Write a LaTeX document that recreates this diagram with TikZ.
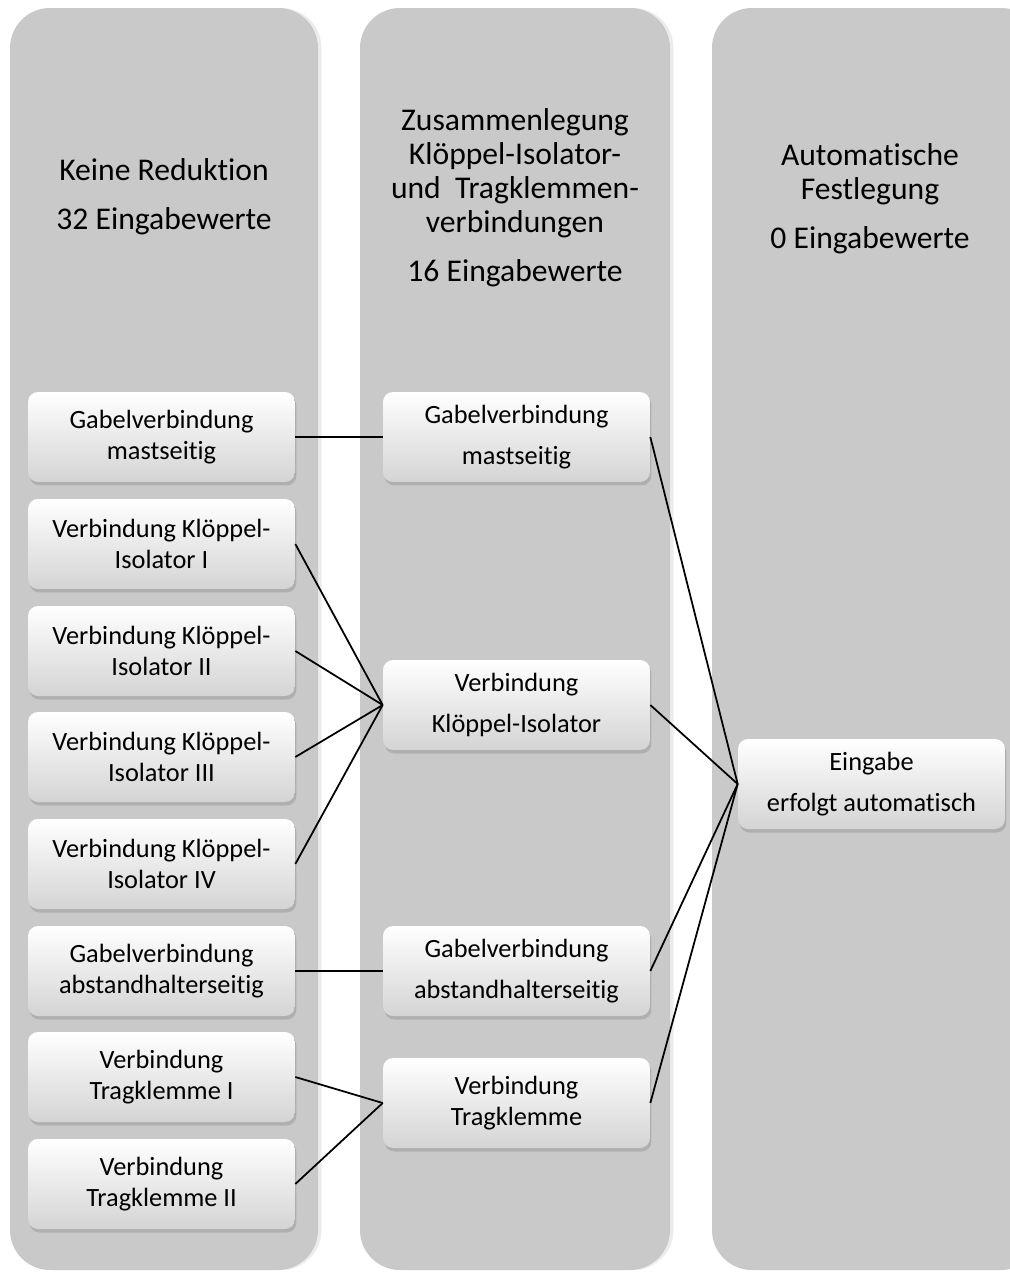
\documentclass[tikz,border=0pt]{standalone}
\usepackage{fontspec}
\setmainfont{Carlito}[Ligatures=NoCommon]
\usetikzlibrary{shadows}
\definecolor{colgray}{RGB}{201,201,201}
\definecolor{boxgray}{RGB}{212,212,212}

\begin{document}
\begin{tikzpicture}[x=0.02cm, y=-0.02cm,
    column/.style={fill=colgray, rounded corners=0.8cm, drop shadow={opacity=0.15, shadow xshift=0.07cm, shadow yshift=0cm}},
    item/.style={rounded corners=0.2cm, top color=white, bottom color=boxgray, minimum width=5.34cm, minimum height=1.8cm, align=center, font=\fontsize{15}{17.6}\selectfont, drop shadow={opacity=0.35, shadow xshift=0.03cm, shadow yshift=-0.07cm}},
    title/.style={align=center, font=\fontsize{18}{19.4}\selectfont},
    link/.style={line width=1pt}]
    \useasboundingbox (0,0) rectangle (1009,1278);
    \path[column] (10,8) rectangle (318,1270);
    \path[column] (360,8) rectangle (670,1270);
    \path[column] (712,8) rectangle (1040,1270);

    \node[title] (t1) at (164,197) {Keine Reduktion\\[8.5pt]32 Eingabewerte};
    \node[title] (t2) at (515,198) {Zusammenlegung\\Klöppel-Isolator-\\und\ \ Tragklemmen-\\verbindungen\\[8.5pt]16 Eingabewerte};
    \node[title] (t3) at (870,199) {Automatische\\Festlegung\\[8.5pt]0 Eingabewerte};

    \node[item] (left1) at (161.5,437) {Gabelverbindung\\mastseitig};
    \node[item] (left2) at (161.5,544) {Verbindung Klöppel-\\Isolator I};
    \node[item] (left3) at (161.5,651) {Verbindung Klöppel-\\Isolator II};
    \node[item] (left4) at (161.5,757) {Verbindung Klöppel-\\Isolator III};
    \node[item] (left5) at (161.5,864) {Verbindung Klöppel-\\Isolator IV};
    \node[item] (left6) at (161.5,971) {Gabelverbindung\\abstandhalterseitig};
    \node[item] (left7) at (161.5,1077) {Verbindung\\Tragklemme I};
    \node[item] (left8) at (161.5,1184) {Verbindung\\Tragklemme II};

    \node[item] (mid1) at (516.5,437) {Gabelverbindung\\[6pt]mastseitig};
    \node[item] (mid2) at (516.5,705) {Verbindung\\[6pt]Klöppel-Isolator};
    \node[item] (mid3) at (516.5,971) {Gabelverbindung\\[6pt]abstandhalterseitig};
    \node[item] (mid4) at (516.5,1103) {Verbindung\\Tragklemme};

    \node[item] (auto) at (871.5,784) {Eingabe\\[6pt]erfolgt automatisch};

    \draw[link] (left1.east) -- (mid1.west);
    \foreach \i in {2,...,5}
        \draw[link] (left\i.east) -- (mid2.west);
    \draw[link] (left6.east) -- (mid3.west);
    \draw[link] (left7.east) -- (mid4.west);
    \draw[link] (left8.east) -- (mid4.west);
    \foreach \j in {1,...,4}
        \draw[link] (mid\j.east) -- (auto.west);
\end{tikzpicture}
\end{document}
